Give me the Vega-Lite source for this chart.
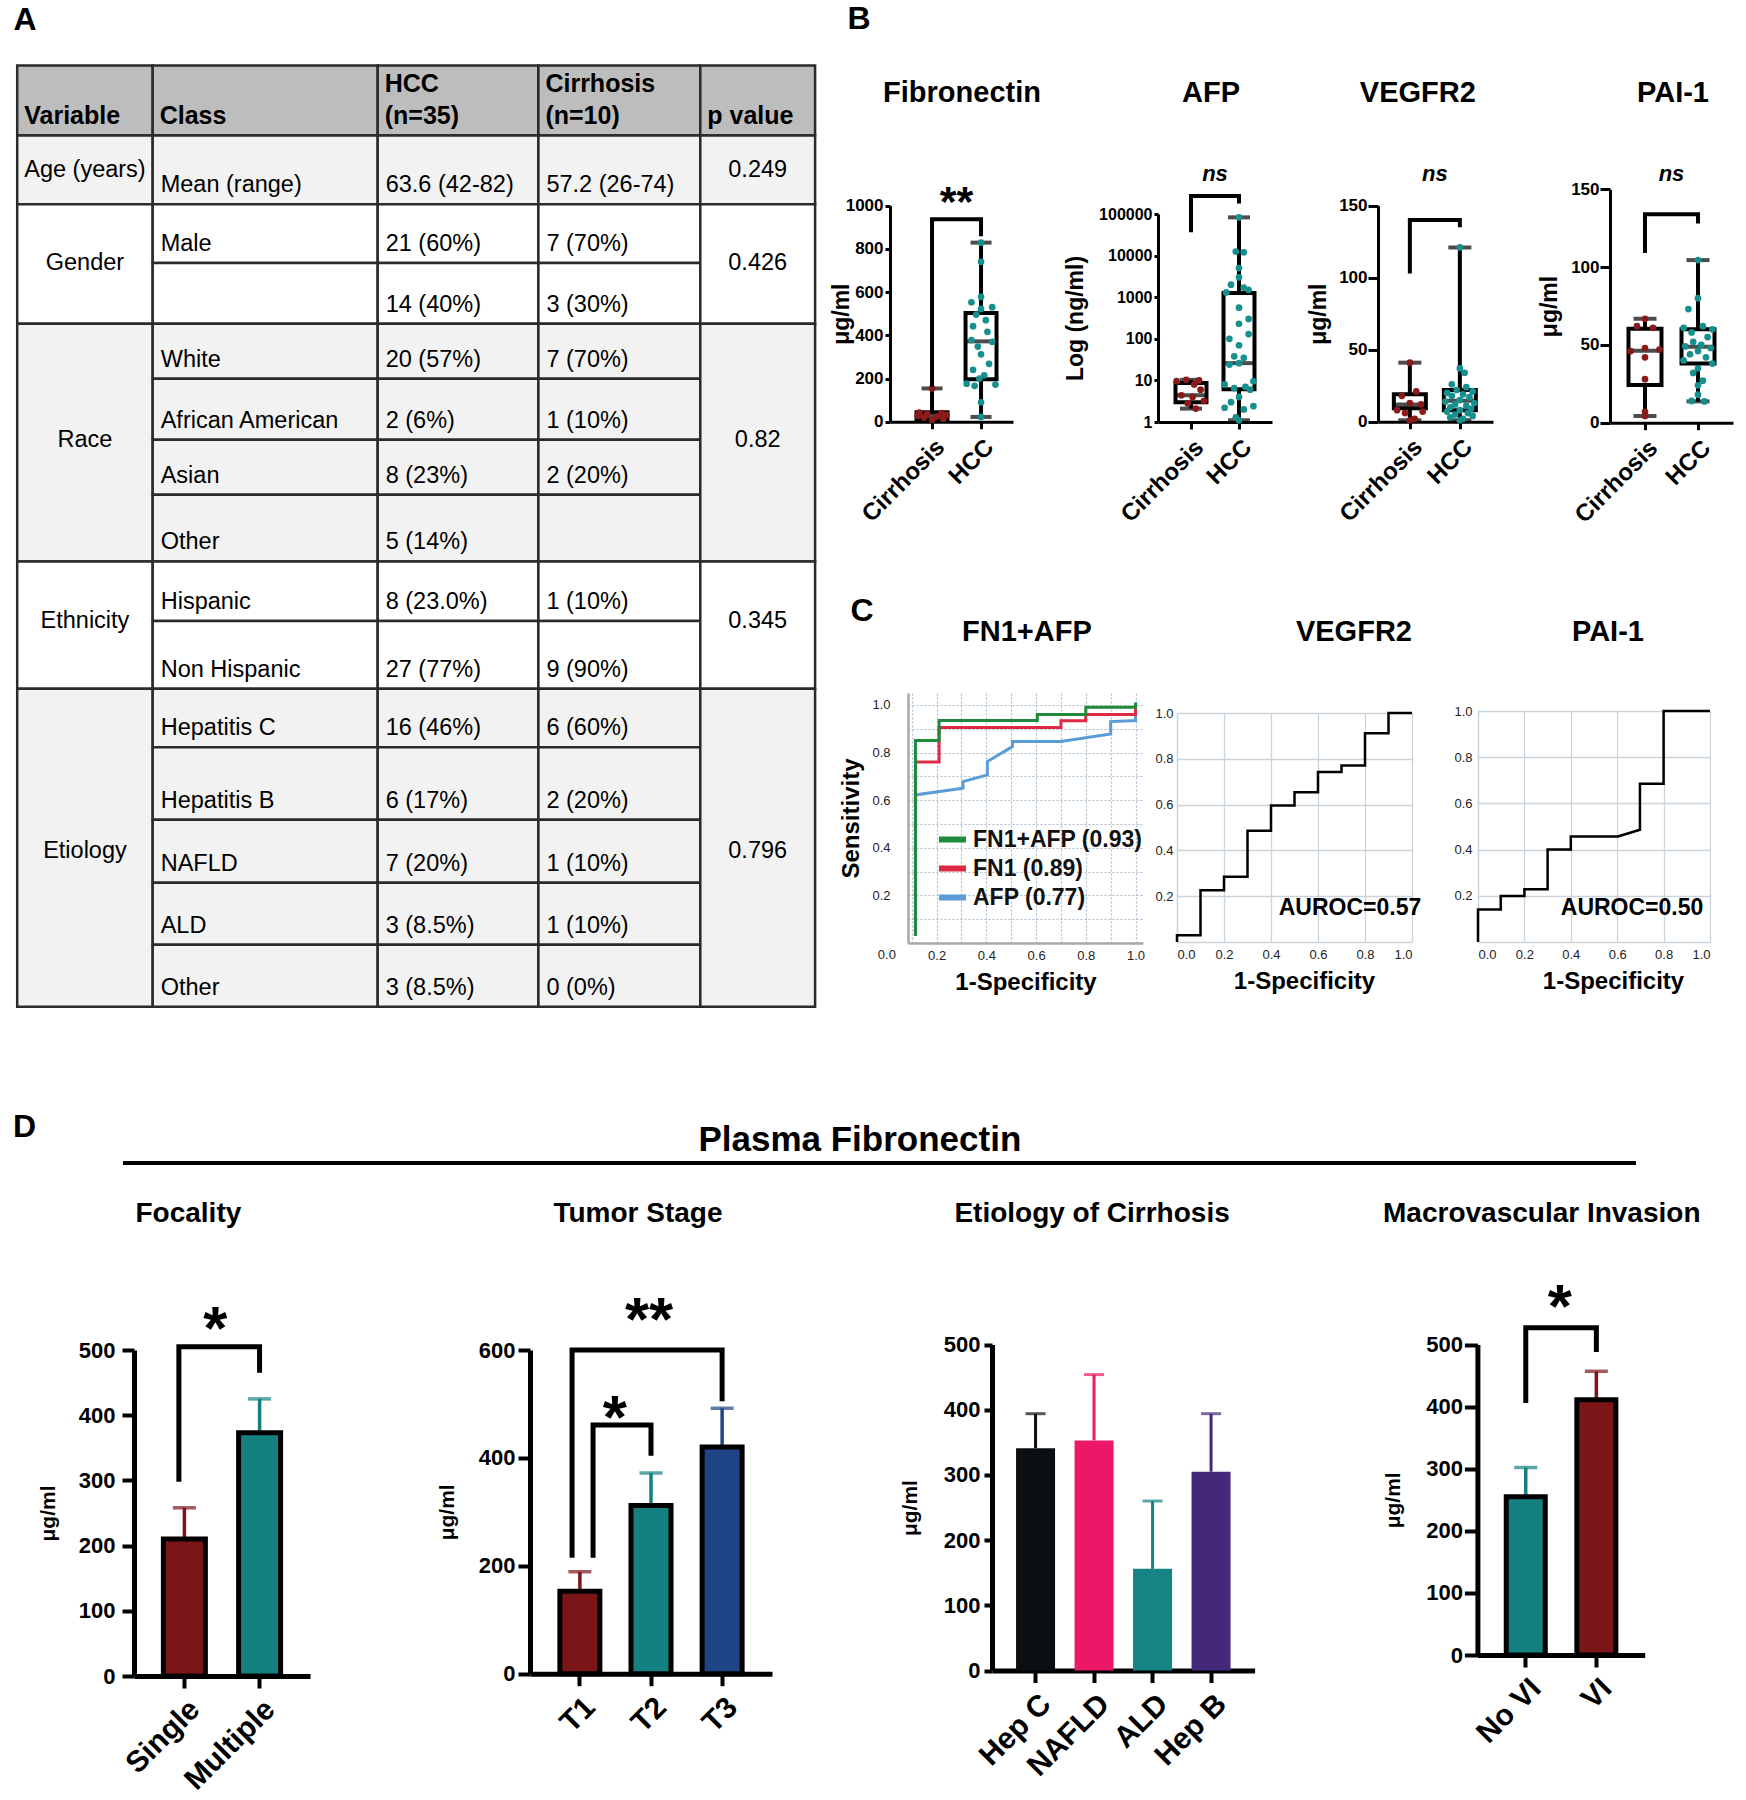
{
"$schema": "https://vega.github.io/schema/vega-lite/v6.json",
"width": 1746, "height": 1800,
"autosize": {"type": "none"},
"padding": 0,
"background": "#ffffff",
"config": {
  "font": "Liberation Sans",
  "view": {"stroke": null},
  "axis": {"grid": false, "labelColor": "#000000", "titleColor": "#000000", "domainColor": "#000000", "tickColor": "#000000", "labelFont": "Liberation Sans", "titleFont": "Liberation Sans"},
  "text": {"font": "Liberation Sans", "color": "#000000"}
},
"resolve": {
  "scale": {"x": "independent", "y": "independent", "color": "independent", "xOffset": "independent"},
  "axis": {"x": "independent", "y": "independent"},
  "legend": {"color": "independent"}
},
"datasets": {
  "table": [
    {"sec":"Header","c0":0,"c1":1,"r0":0,"r1":1,"text":"Variable"},
    {"sec":"Header","c0":1,"c1":2,"r0":0,"r1":1,"text":"Class"},
    {"sec":"Header","c0":2,"c1":3,"r0":0,"r1":1,"text":"HCC\n(n=35)"},
    {"sec":"Header","c0":3,"c1":4,"r0":0,"r1":1,"text":"Cirrhosis\n(n=10)"},
    {"sec":"Header","c0":4,"c1":5,"r0":0,"r1":1,"text":"p value"},
    {"sec":"Age","c0":0,"c1":1,"r0":1,"r1":2,"text":"Age (years)"},
    {"sec":"Age","c0":1,"c1":2,"r0":1,"r1":2,"text":"Mean (range)"},
    {"sec":"Age","c0":2,"c1":3,"r0":1,"r1":2,"text":"63.6 (42-82)"},
    {"sec":"Age","c0":3,"c1":4,"r0":1,"r1":2,"text":"57.2 (26-74)"},
    {"sec":"Age","c0":4,"c1":5,"r0":1,"r1":2,"text":"0.249"},
    {"sec":"Gender","c0":0,"c1":1,"r0":2,"r1":4,"text":"Gender"},
    {"sec":"Gender","c0":1,"c1":2,"r0":2,"r1":3,"text":"Male"},
    {"sec":"Gender","c0":2,"c1":3,"r0":2,"r1":3,"text":"21 (60%)"},
    {"sec":"Gender","c0":3,"c1":4,"r0":2,"r1":3,"text":"7 (70%)"},
    {"sec":"Gender","c0":1,"c1":2,"r0":3,"r1":4,"text":""},
    {"sec":"Gender","c0":2,"c1":3,"r0":3,"r1":4,"text":"14 (40%)"},
    {"sec":"Gender","c0":3,"c1":4,"r0":3,"r1":4,"text":"3 (30%)"},
    {"sec":"Gender","c0":4,"c1":5,"r0":2,"r1":4,"text":"0.426"},
    {"sec":"Race","c0":0,"c1":1,"r0":4,"r1":8,"text":"Race"},
    {"sec":"Race","c0":1,"c1":2,"r0":4,"r1":5,"text":"White"},
    {"sec":"Race","c0":2,"c1":3,"r0":4,"r1":5,"text":"20 (57%)"},
    {"sec":"Race","c0":3,"c1":4,"r0":4,"r1":5,"text":"7 (70%)"},
    {"sec":"Race","c0":1,"c1":2,"r0":5,"r1":6,"text":"African American"},
    {"sec":"Race","c0":2,"c1":3,"r0":5,"r1":6,"text":"2 (6%)"},
    {"sec":"Race","c0":3,"c1":4,"r0":5,"r1":6,"text":"1 (10%)"},
    {"sec":"Race","c0":1,"c1":2,"r0":6,"r1":7,"text":"Asian"},
    {"sec":"Race","c0":2,"c1":3,"r0":6,"r1":7,"text":"8 (23%)"},
    {"sec":"Race","c0":3,"c1":4,"r0":6,"r1":7,"text":"2 (20%)"},
    {"sec":"Race","c0":1,"c1":2,"r0":7,"r1":8,"text":"Other"},
    {"sec":"Race","c0":2,"c1":3,"r0":7,"r1":8,"text":"5 (14%)"},
    {"sec":"Race","c0":3,"c1":4,"r0":7,"r1":8,"text":""},
    {"sec":"Race","c0":4,"c1":5,"r0":4,"r1":8,"text":"0.82"},
    {"sec":"Ethnicity","c0":0,"c1":1,"r0":8,"r1":10,"text":"Ethnicity"},
    {"sec":"Ethnicity","c0":1,"c1":2,"r0":8,"r1":9,"text":"Hispanic"},
    {"sec":"Ethnicity","c0":2,"c1":3,"r0":8,"r1":9,"text":"8 (23.0%)"},
    {"sec":"Ethnicity","c0":3,"c1":4,"r0":8,"r1":9,"text":"1 (10%)"},
    {"sec":"Ethnicity","c0":1,"c1":2,"r0":9,"r1":10,"text":"Non Hispanic"},
    {"sec":"Ethnicity","c0":2,"c1":3,"r0":9,"r1":10,"text":"27 (77%)"},
    {"sec":"Ethnicity","c0":3,"c1":4,"r0":9,"r1":10,"text":"9 (90%)"},
    {"sec":"Ethnicity","c0":4,"c1":5,"r0":8,"r1":10,"text":"0.345"},
    {"sec":"Etiology","c0":0,"c1":1,"r0":10,"r1":15,"text":"Etiology"},
    {"sec":"Etiology","c0":1,"c1":2,"r0":10,"r1":11,"text":"Hepatitis C"},
    {"sec":"Etiology","c0":2,"c1":3,"r0":10,"r1":11,"text":"16 (46%)"},
    {"sec":"Etiology","c0":3,"c1":4,"r0":10,"r1":11,"text":"6 (60%)"},
    {"sec":"Etiology","c0":1,"c1":2,"r0":11,"r1":12,"text":"Hepatitis B"},
    {"sec":"Etiology","c0":2,"c1":3,"r0":11,"r1":12,"text":"6 (17%)"},
    {"sec":"Etiology","c0":3,"c1":4,"r0":11,"r1":12,"text":"2 (20%)"},
    {"sec":"Etiology","c0":1,"c1":2,"r0":12,"r1":13,"text":"NAFLD"},
    {"sec":"Etiology","c0":2,"c1":3,"r0":12,"r1":13,"text":"7 (20%)"},
    {"sec":"Etiology","c0":3,"c1":4,"r0":12,"r1":13,"text":"1 (10%)"},
    {"sec":"Etiology","c0":1,"c1":2,"r0":13,"r1":14,"text":"ALD"},
    {"sec":"Etiology","c0":2,"c1":3,"r0":13,"r1":14,"text":"3 (8.5%)"},
    {"sec":"Etiology","c0":3,"c1":4,"r0":13,"r1":14,"text":"1 (10%)"},
    {"sec":"Etiology","c0":1,"c1":2,"r0":14,"r1":15,"text":"Other"},
    {"sec":"Etiology","c0":2,"c1":3,"r0":14,"r1":15,"text":"3 (8.5%)"},
    {"sec":"Etiology","c0":3,"c1":4,"r0":14,"r1":15,"text":"0 (0%)"},
    {"sec":"Etiology","c0":4,"c1":5,"r0":10,"r1":15,"text":"0.796"}
  ],
  "bbox": [
    {"panel":"Fibronectin","group":"Cirrhosis","lo":5,"q1":10,"med":28,"q3":44,"hi":154},
    {"panel":"Fibronectin","group":"HCC","lo":22,"q1":196,"med":372,"q3":503,"hi":829},
    {"panel":"AFP","group":"Cirrhosis","lo":2.1,"q1":3.0,"med":4.4,"q3":8.6,"hi":10.3},
    {"panel":"AFP","group":"HCC","lo":1.1,"q1":6.1,"med":26,"q3":1260,"hi":83000},
    {"panel":"VEGFR2","group":"Cirrhosis","lo":1,"q1":9.3,"med":12,"q3":19,"hi":41},
    {"panel":"VEGFR2","group":"HCC","lo":1,"q1":8,"med":14.6,"q3":22,"hi":121},
    {"panel":"PAI-1","group":"Cirrhosis","lo":4.3,"q1":24.2,"med":46.3,"q3":60.4,"hi":66.8},
    {"panel":"PAI-1","group":"HCC","lo":13.7,"q1":38,"med":48.8,"q3":60,"hi":104.5}
  ],
  "bbr": [
    {"panel":"Fibronectin","br":"a","ord":1,"group":"Cirrhosis","y":163},
    {"panel":"Fibronectin","br":"a","ord":2,"group":"Cirrhosis","y":937},
    {"panel":"Fibronectin","br":"a","ord":3,"group":"HCC","y":937},
    {"panel":"Fibronectin","br":"a","ord":4,"group":"HCC","y":859},
    {"panel":"AFP","br":"a","ord":1,"group":"Cirrhosis","y":36500},
    {"panel":"AFP","br":"a","ord":2,"group":"Cirrhosis","y":270000},
    {"panel":"AFP","br":"a","ord":3,"group":"HCC","y":270000},
    {"panel":"AFP","br":"a","ord":4,"group":"HCC","y":180000},
    {"panel":"VEGFR2","br":"a","ord":1,"group":"Cirrhosis","y":103},
    {"panel":"VEGFR2","br":"a","ord":2,"group":"Cirrhosis","y":140},
    {"panel":"VEGFR2","br":"a","ord":3,"group":"HCC","y":140},
    {"panel":"VEGFR2","br":"a","ord":4,"group":"HCC","y":135},
    {"panel":"PAI-1","br":"a","ord":1,"group":"Cirrhosis","y":109},
    {"panel":"PAI-1","br":"a","ord":2,"group":"Cirrhosis","y":134},
    {"panel":"PAI-1","br":"a","ord":3,"group":"HCC","y":134},
    {"panel":"PAI-1","br":"a","ord":4,"group":"HCC","y":128}
  ],
  "bpts": [
    {"panel":"Fibronectin","group":"Cirrhosis","value":154,"jitter":0},
    {"panel":"Fibronectin","group":"Cirrhosis","value":42,"jitter":-0.8},
    {"panel":"Fibronectin","group":"Cirrhosis","value":40,"jitter":0.6},
    {"panel":"Fibronectin","group":"Cirrhosis","value":36,"jitter":-0.3},
    {"panel":"Fibronectin","group":"Cirrhosis","value":31,"jitter":0.9},
    {"panel":"Fibronectin","group":"Cirrhosis","value":27,"jitter":-0.9},
    {"panel":"Fibronectin","group":"Cirrhosis","value":24,"jitter":0.3},
    {"panel":"Fibronectin","group":"Cirrhosis","value":20,"jitter":-0.5},
    {"panel":"Fibronectin","group":"Cirrhosis","value":14,"jitter":0.7},
    {"panel":"Fibronectin","group":"Cirrhosis","value":9,"jitter":0},
    {"panel":"Fibronectin","group":"HCC","value":829,"jitter":0},
    {"panel":"Fibronectin","group":"HCC","value":740,"jitter":0},
    {"panel":"Fibronectin","group":"HCC","value":578,"jitter":0},
    {"panel":"Fibronectin","group":"HCC","value":553,"jitter":-0.6},
    {"panel":"Fibronectin","group":"HCC","value":530,"jitter":0.7},
    {"panel":"Fibronectin","group":"HCC","value":522,"jitter":0},
    {"panel":"Fibronectin","group":"HCC","value":496,"jitter":-0.3},
    {"panel":"Fibronectin","group":"HCC","value":470,"jitter":0.3},
    {"panel":"Fibronectin","group":"HCC","value":442,"jitter":-0.5},
    {"panel":"Fibronectin","group":"HCC","value":416,"jitter":0.4},
    {"panel":"Fibronectin","group":"HCC","value":378,"jitter":-0.6},
    {"panel":"Fibronectin","group":"HCC","value":370,"jitter":0.7},
    {"panel":"Fibronectin","group":"HCC","value":348,"jitter":-0.2},
    {"panel":"Fibronectin","group":"HCC","value":312,"jitter":0},
    {"panel":"Fibronectin","group":"HCC","value":268,"jitter":0.5},
    {"panel":"Fibronectin","group":"HCC","value":240,"jitter":-0.5},
    {"panel":"Fibronectin","group":"HCC","value":215,"jitter":0.2},
    {"panel":"Fibronectin","group":"HCC","value":200,"jitter":-0.1},
    {"panel":"Fibronectin","group":"HCC","value":176,"jitter":-0.9},
    {"panel":"Fibronectin","group":"HCC","value":172,"jitter":0.9},
    {"panel":"Fibronectin","group":"HCC","value":166,"jitter":-0.4},
    {"panel":"Fibronectin","group":"HCC","value":90,"jitter":0},
    {"panel":"Fibronectin","group":"HCC","value":22,"jitter":0},
    {"panel":"AFP","group":"Cirrhosis","value":10.3,"jitter":-0.3},
    {"panel":"AFP","group":"Cirrhosis","value":10,"jitter":0.5},
    {"panel":"AFP","group":"Cirrhosis","value":9.6,"jitter":-0.9},
    {"panel":"AFP","group":"Cirrhosis","value":8,"jitter":0.2},
    {"panel":"AFP","group":"Cirrhosis","value":6,"jitter":0.6},
    {"panel":"AFP","group":"Cirrhosis","value":4.4,"jitter":-0.6},
    {"panel":"AFP","group":"Cirrhosis","value":4,"jitter":0.1},
    {"panel":"AFP","group":"Cirrhosis","value":3.2,"jitter":0.8},
    {"panel":"AFP","group":"Cirrhosis","value":2.8,"jitter":-0.2},
    {"panel":"AFP","group":"Cirrhosis","value":2.1,"jitter":0.3},
    {"panel":"AFP","group":"HCC","value":83000,"jitter":0},
    {"panel":"AFP","group":"HCC","value":12500,"jitter":-0.2},
    {"panel":"AFP","group":"HCC","value":12000,"jitter":0.3},
    {"panel":"AFP","group":"HCC","value":5000,"jitter":0},
    {"panel":"AFP","group":"HCC","value":3000,"jitter":0},
    {"panel":"AFP","group":"HCC","value":2000,"jitter":-0.5},
    {"panel":"AFP","group":"HCC","value":1700,"jitter":0.3},
    {"panel":"AFP","group":"HCC","value":1500,"jitter":0.6},
    {"panel":"AFP","group":"HCC","value":1300,"jitter":-0.8},
    {"panel":"AFP","group":"HCC","value":560,"jitter":0},
    {"panel":"AFP","group":"HCC","value":300,"jitter":0.6},
    {"panel":"AFP","group":"HCC","value":230,"jitter":0},
    {"panel":"AFP","group":"HCC","value":130,"jitter":0.6},
    {"panel":"AFP","group":"HCC","value":100,"jitter":-0.6},
    {"panel":"AFP","group":"HCC","value":70,"jitter":0},
    {"panel":"AFP","group":"HCC","value":38,"jitter":-0.3},
    {"panel":"AFP","group":"HCC","value":35,"jitter":0.3},
    {"panel":"AFP","group":"HCC","value":26,"jitter":0},
    {"panel":"AFP","group":"HCC","value":24,"jitter":-0.6},
    {"panel":"AFP","group":"HCC","value":9.5,"jitter":0.9},
    {"panel":"AFP","group":"HCC","value":8,"jitter":-0.9},
    {"panel":"AFP","group":"HCC","value":7,"jitter":0.4},
    {"panel":"AFP","group":"HCC","value":6.5,"jitter":-0.3},
    {"panel":"AFP","group":"HCC","value":6,"jitter":0.7},
    {"panel":"AFP","group":"HCC","value":4,"jitter":0},
    {"panel":"AFP","group":"HCC","value":3,"jitter":-0.5},
    {"panel":"AFP","group":"HCC","value":2.4,"jitter":0.9},
    {"panel":"AFP","group":"HCC","value":2.2,"jitter":-0.9},
    {"panel":"AFP","group":"HCC","value":2,"jitter":0.3},
    {"panel":"AFP","group":"HCC","value":1.3,"jitter":-0.2},
    {"panel":"AFP","group":"HCC","value":1.1,"jitter":0},
    {"panel":"VEGFR2","group":"Cirrhosis","value":41,"jitter":0},
    {"panel":"VEGFR2","group":"Cirrhosis","value":21,"jitter":0.4},
    {"panel":"VEGFR2","group":"Cirrhosis","value":18,"jitter":-0.5},
    {"panel":"VEGFR2","group":"Cirrhosis","value":13,"jitter":0},
    {"panel":"VEGFR2","group":"Cirrhosis","value":12,"jitter":0.7},
    {"panel":"VEGFR2","group":"Cirrhosis","value":8,"jitter":-0.8},
    {"panel":"VEGFR2","group":"Cirrhosis","value":7,"jitter":0.8},
    {"panel":"VEGFR2","group":"Cirrhosis","value":6,"jitter":-0.3},
    {"panel":"VEGFR2","group":"Cirrhosis","value":2,"jitter":0.3},
    {"panel":"VEGFR2","group":"Cirrhosis","value":1,"jitter":0},
    {"panel":"VEGFR2","group":"HCC","value":121,"jitter":0},
    {"panel":"VEGFR2","group":"HCC","value":37,"jitter":0},
    {"panel":"VEGFR2","group":"HCC","value":34,"jitter":0.3},
    {"panel":"VEGFR2","group":"HCC","value":26,"jitter":-0.5},
    {"panel":"VEGFR2","group":"HCC","value":24,"jitter":0.4},
    {"panel":"VEGFR2","group":"HCC","value":22,"jitter":-0.2},
    {"panel":"VEGFR2","group":"HCC","value":21,"jitter":0.8},
    {"panel":"VEGFR2","group":"HCC","value":20,"jitter":-0.8},
    {"panel":"VEGFR2","group":"HCC","value":19,"jitter":0.2},
    {"panel":"VEGFR2","group":"HCC","value":18,"jitter":-0.5},
    {"panel":"VEGFR2","group":"HCC","value":17,"jitter":0.6},
    {"panel":"VEGFR2","group":"HCC","value":15,"jitter":0},
    {"panel":"VEGFR2","group":"HCC","value":14,"jitter":-0.9},
    {"panel":"VEGFR2","group":"HCC","value":13,"jitter":0.9},
    {"panel":"VEGFR2","group":"HCC","value":12,"jitter":-0.3},
    {"panel":"VEGFR2","group":"HCC","value":11,"jitter":0.4},
    {"panel":"VEGFR2","group":"HCC","value":10,"jitter":-0.6},
    {"panel":"VEGFR2","group":"HCC","value":9,"jitter":0.7},
    {"panel":"VEGFR2","group":"HCC","value":8,"jitter":0},
    {"panel":"VEGFR2","group":"HCC","value":7,"jitter":-0.8},
    {"panel":"VEGFR2","group":"HCC","value":6,"jitter":0.5},
    {"panel":"VEGFR2","group":"HCC","value":5,"jitter":-0.3},
    {"panel":"VEGFR2","group":"HCC","value":4,"jitter":0.8},
    {"panel":"VEGFR2","group":"HCC","value":3,"jitter":-0.6},
    {"panel":"VEGFR2","group":"HCC","value":2,"jitter":0.2},
    {"panel":"VEGFR2","group":"HCC","value":1,"jitter":0},
    {"panel":"PAI-1","group":"Cirrhosis","value":66.8,"jitter":0},
    {"panel":"PAI-1","group":"Cirrhosis","value":62,"jitter":-0.5},
    {"panel":"PAI-1","group":"Cirrhosis","value":61,"jitter":0.5},
    {"panel":"PAI-1","group":"Cirrhosis","value":48,"jitter":0},
    {"panel":"PAI-1","group":"Cirrhosis","value":47,"jitter":0.9},
    {"panel":"PAI-1","group":"Cirrhosis","value":46,"jitter":-0.9},
    {"panel":"PAI-1","group":"Cirrhosis","value":42,"jitter":0},
    {"panel":"PAI-1","group":"Cirrhosis","value":28,"jitter":0},
    {"panel":"PAI-1","group":"Cirrhosis","value":7,"jitter":0},
    {"panel":"PAI-1","group":"Cirrhosis","value":4.3,"jitter":0},
    {"panel":"PAI-1","group":"HCC","value":104.5,"jitter":0},
    {"panel":"PAI-1","group":"HCC","value":80,"jitter":0},
    {"panel":"PAI-1","group":"HCC","value":73,"jitter":-0.6},
    {"panel":"PAI-1","group":"HCC","value":62,"jitter":0.3},
    {"panel":"PAI-1","group":"HCC","value":61,"jitter":-0.9},
    {"panel":"PAI-1","group":"HCC","value":60,"jitter":0.9},
    {"panel":"PAI-1","group":"HCC","value":58,"jitter":-0.4},
    {"panel":"PAI-1","group":"HCC","value":55,"jitter":0.6},
    {"panel":"PAI-1","group":"HCC","value":52,"jitter":-0.3},
    {"panel":"PAI-1","group":"HCC","value":50,"jitter":0.2},
    {"panel":"PAI-1","group":"HCC","value":49,"jitter":-0.8},
    {"panel":"PAI-1","group":"HCC","value":48,"jitter":0.8},
    {"panel":"PAI-1","group":"HCC","value":46,"jitter":0},
    {"panel":"PAI-1","group":"HCC","value":44,"jitter":-0.5},
    {"panel":"PAI-1","group":"HCC","value":42,"jitter":0.5},
    {"panel":"PAI-1","group":"HCC","value":40,"jitter":-0.9},
    {"panel":"PAI-1","group":"HCC","value":38,"jitter":0.9},
    {"panel":"PAI-1","group":"HCC","value":35,"jitter":0},
    {"panel":"PAI-1","group":"HCC","value":32,"jitter":-0.3},
    {"panel":"PAI-1","group":"HCC","value":27,"jitter":0.3},
    {"panel":"PAI-1","group":"HCC","value":24,"jitter":0},
    {"panel":"PAI-1","group":"HCC","value":18,"jitter":0},
    {"panel":"PAI-1","group":"HCC","value":14,"jitter":-0.4},
    {"panel":"PAI-1","group":"HCC","value":13.7,"jitter":0.4}
  ],
  "roc": [
    {"panel":"FN1+AFP","curve":"AFP (0.77)","ord":1,"fpr":0.115,"tpr":0.03},
    {"panel":"FN1+AFP","curve":"AFP (0.77)","ord":2,"fpr":0.115,"tpr":0.622},
    {"panel":"FN1+AFP","curve":"AFP (0.77)","ord":3,"fpr":0.306,"tpr":0.65},
    {"panel":"FN1+AFP","curve":"AFP (0.77)","ord":4,"fpr":0.306,"tpr":0.678},
    {"panel":"FN1+AFP","curve":"AFP (0.77)","ord":5,"fpr":0.404,"tpr":0.706},
    {"panel":"FN1+AFP","curve":"AFP (0.77)","ord":6,"fpr":0.404,"tpr":0.762},
    {"panel":"FN1+AFP","curve":"AFP (0.77)","ord":7,"fpr":0.505,"tpr":0.825},
    {"panel":"FN1+AFP","curve":"AFP (0.77)","ord":8,"fpr":0.505,"tpr":0.846},
    {"panel":"FN1+AFP","curve":"AFP (0.77)","ord":9,"fpr":0.70,"tpr":0.846},
    {"panel":"FN1+AFP","curve":"AFP (0.77)","ord":10,"fpr":0.90,"tpr":0.878},
    {"panel":"FN1+AFP","curve":"AFP (0.77)","ord":11,"fpr":0.90,"tpr":0.93},
    {"panel":"FN1+AFP","curve":"AFP (0.77)","ord":12,"fpr":1.0,"tpr":0.934},
    {"panel":"FN1+AFP","curve":"AFP (0.77)","ord":13,"fpr":1.0,"tpr":0.958},
    {"panel":"FN1+AFP","curve":"FN1 (0.89)","ord":1,"fpr":0.115,"tpr":0.03},
    {"panel":"FN1+AFP","curve":"FN1 (0.89)","ord":2,"fpr":0.115,"tpr":0.76},
    {"panel":"FN1+AFP","curve":"FN1 (0.89)","ord":3,"fpr":0.21,"tpr":0.76},
    {"panel":"FN1+AFP","curve":"FN1 (0.89)","ord":4,"fpr":0.21,"tpr":0.905},
    {"panel":"FN1+AFP","curve":"FN1 (0.89)","ord":5,"fpr":0.70,"tpr":0.905},
    {"panel":"FN1+AFP","curve":"FN1 (0.89)","ord":6,"fpr":0.70,"tpr":0.933},
    {"panel":"FN1+AFP","curve":"FN1 (0.89)","ord":7,"fpr":0.80,"tpr":0.933},
    {"panel":"FN1+AFP","curve":"FN1 (0.89)","ord":8,"fpr":0.80,"tpr":0.96},
    {"panel":"FN1+AFP","curve":"FN1 (0.89)","ord":9,"fpr":1.0,"tpr":0.96},
    {"panel":"FN1+AFP","curve":"FN1 (0.89)","ord":10,"fpr":1.0,"tpr":0.99},
    {"panel":"FN1+AFP","curve":"FN1+AFP (0.93)","ord":1,"fpr":0.115,"tpr":0.03},
    {"panel":"FN1+AFP","curve":"FN1+AFP (0.93)","ord":2,"fpr":0.115,"tpr":0.85},
    {"panel":"FN1+AFP","curve":"FN1+AFP (0.93)","ord":3,"fpr":0.21,"tpr":0.85},
    {"panel":"FN1+AFP","curve":"FN1+AFP (0.93)","ord":4,"fpr":0.21,"tpr":0.935},
    {"panel":"FN1+AFP","curve":"FN1+AFP (0.93)","ord":5,"fpr":0.605,"tpr":0.935},
    {"panel":"FN1+AFP","curve":"FN1+AFP (0.93)","ord":6,"fpr":0.605,"tpr":0.96},
    {"panel":"FN1+AFP","curve":"FN1+AFP (0.93)","ord":7,"fpr":0.80,"tpr":0.96},
    {"panel":"FN1+AFP","curve":"FN1+AFP (0.93)","ord":8,"fpr":0.80,"tpr":0.99},
    {"panel":"FN1+AFP","curve":"FN1+AFP (0.93)","ord":9,"fpr":1.0,"tpr":0.99},
    {"panel":"FN1+AFP","curve":"FN1+AFP (0.93)","ord":10,"fpr":1.0,"tpr":1.01},
    {"panel":"VEGFR2","curve":"VEGFR2","ord":1,"fpr":0,"tpr":0},
    {"panel":"VEGFR2","curve":"VEGFR2","ord":2,"fpr":0,"tpr":0.03},
    {"panel":"VEGFR2","curve":"VEGFR2","ord":3,"fpr":0.1,"tpr":0.03},
    {"panel":"VEGFR2","curve":"VEGFR2","ord":4,"fpr":0.1,"tpr":0.226},
    {"panel":"VEGFR2","curve":"VEGFR2","ord":5,"fpr":0.2,"tpr":0.226},
    {"panel":"VEGFR2","curve":"VEGFR2","ord":6,"fpr":0.2,"tpr":0.285},
    {"panel":"VEGFR2","curve":"VEGFR2","ord":7,"fpr":0.3,"tpr":0.285},
    {"panel":"VEGFR2","curve":"VEGFR2","ord":8,"fpr":0.3,"tpr":0.486},
    {"panel":"VEGFR2","curve":"VEGFR2","ord":9,"fpr":0.4,"tpr":0.486},
    {"panel":"VEGFR2","curve":"VEGFR2","ord":10,"fpr":0.4,"tpr":0.596},
    {"panel":"VEGFR2","curve":"VEGFR2","ord":11,"fpr":0.5,"tpr":0.596},
    {"panel":"VEGFR2","curve":"VEGFR2","ord":12,"fpr":0.5,"tpr":0.654},
    {"panel":"VEGFR2","curve":"VEGFR2","ord":13,"fpr":0.6,"tpr":0.654},
    {"panel":"VEGFR2","curve":"VEGFR2","ord":14,"fpr":0.6,"tpr":0.742},
    {"panel":"VEGFR2","curve":"VEGFR2","ord":15,"fpr":0.7,"tpr":0.742},
    {"panel":"VEGFR2","curve":"VEGFR2","ord":16,"fpr":0.7,"tpr":0.771},
    {"panel":"VEGFR2","curve":"VEGFR2","ord":17,"fpr":0.8,"tpr":0.771},
    {"panel":"VEGFR2","curve":"VEGFR2","ord":18,"fpr":0.8,"tpr":0.912},
    {"panel":"VEGFR2","curve":"VEGFR2","ord":19,"fpr":0.9,"tpr":0.912},
    {"panel":"VEGFR2","curve":"VEGFR2","ord":20,"fpr":0.9,"tpr":1.0},
    {"panel":"VEGFR2","curve":"VEGFR2","ord":21,"fpr":1.0,"tpr":1.0},
    {"panel":"PAI-1","curve":"PAI-1","ord":1,"fpr":0,"tpr":0},
    {"panel":"PAI-1","curve":"PAI-1","ord":2,"fpr":0,"tpr":0.141},
    {"panel":"PAI-1","curve":"PAI-1","ord":3,"fpr":0.098,"tpr":0.141},
    {"panel":"PAI-1","curve":"PAI-1","ord":4,"fpr":0.098,"tpr":0.199},
    {"panel":"PAI-1","curve":"PAI-1","ord":5,"fpr":0.2,"tpr":0.199},
    {"panel":"PAI-1","curve":"PAI-1","ord":6,"fpr":0.2,"tpr":0.228},
    {"panel":"PAI-1","curve":"PAI-1","ord":7,"fpr":0.3,"tpr":0.228},
    {"panel":"PAI-1","curve":"PAI-1","ord":8,"fpr":0.3,"tpr":0.4},
    {"panel":"PAI-1","curve":"PAI-1","ord":9,"fpr":0.4,"tpr":0.4},
    {"panel":"PAI-1","curve":"PAI-1","ord":10,"fpr":0.4,"tpr":0.457},
    {"panel":"PAI-1","curve":"PAI-1","ord":11,"fpr":0.603,"tpr":0.457},
    {"panel":"PAI-1","curve":"PAI-1","ord":12,"fpr":0.698,"tpr":0.486},
    {"panel":"PAI-1","curve":"PAI-1","ord":13,"fpr":0.698,"tpr":0.685},
    {"panel":"PAI-1","curve":"PAI-1","ord":14,"fpr":0.8,"tpr":0.685},
    {"panel":"PAI-1","curve":"PAI-1","ord":15,"fpr":0.8,"tpr":1.0},
    {"panel":"PAI-1","curve":"PAI-1","ord":16,"fpr":1.0,"tpr":1.0}
  ],
  "dbars": [
    {"panel":"Focality","group":"Single","mean":210,"upper":258},
    {"panel":"Focality","group":"Multiple","mean":373,"upper":425},
    {"panel":"Tumor","group":"T1","mean":153,"upper":189},
    {"panel":"Tumor","group":"T2","mean":312,"upper":372},
    {"panel":"Tumor","group":"T3","mean":420,"upper":492},
    {"panel":"Etiology","group":"Hep C","mean":341,"upper":394},
    {"panel":"Etiology","group":"NAFLD","mean":353,"upper":454},
    {"panel":"Etiology","group":"ALD","mean":156,"upper":260},
    {"panel":"Etiology","group":"Hep B","mean":305,"upper":394},
    {"panel":"Macro","group":"No VI","mean":255,"upper":302},
    {"panel":"Macro","group":"VI","mean":411,"upper":457}
  ],
  "dbr": [
    {"panel":"Focality","br":"a","ord":1,"group":"Single","shift":-0.13,"y":298},
    {"panel":"Focality","br":"a","ord":2,"group":"Single","shift":-0.13,"y":505},
    {"panel":"Focality","br":"a","ord":3,"group":"Multiple","shift":0,"y":505},
    {"panel":"Focality","br":"a","ord":4,"group":"Multiple","shift":0,"y":465},
    {"panel":"Tumor","br":"a","ord":1,"group":"T1","shift":-0.195,"y":215},
    {"panel":"Tumor","br":"a","ord":2,"group":"T1","shift":-0.195,"y":600},
    {"panel":"Tumor","br":"a","ord":3,"group":"T3","shift":0,"y":600},
    {"panel":"Tumor","br":"a","ord":4,"group":"T3","shift":0,"y":505},
    {"panel":"Tumor","br":"b","ord":1,"group":"T1","shift":0.33,"y":215},
    {"panel":"Tumor","br":"b","ord":2,"group":"T1","shift":0.33,"y":461},
    {"panel":"Tumor","br":"b","ord":3,"group":"T2","shift":0,"y":461},
    {"panel":"Tumor","br":"b","ord":4,"group":"T2","shift":0,"y":404},
    {"panel":"Macro","br":"a","ord":1,"group":"No VI","shift":0,"y":406},
    {"panel":"Macro","br":"a","ord":2,"group":"No VI","shift":0,"y":527},
    {"panel":"Macro","br":"a","ord":3,"group":"VI","shift":0,"y":527},
    {"panel":"Macro","br":"a","ord":4,"group":"VI","shift":0,"y":488}
  ]
},
"layer": [
  {
    "data": {"name": "table"},
    "resolve": {"axis": {"x": "independent", "y": "independent"}},
    "layer": [
      {"mark": {"type": "rect", "stroke": "#2b2b2b", "strokeWidth": 2.5},
       "encoding": {
         "x": {"field": "c0", "type": "quantitative", "scale": {"domain": [0,1,2,3,4,5], "range": [17.2,152.7,377.7,538.4,700.3,815.1], "nice": false, "zero": false}, "axis": null},
         "x2": {"field": "c1"},
         "y": {"field": "r0", "type": "quantitative", "scale": {"domain": [0,1,2,3,4,5,6,7,8,9,10,11,12,13,14,15], "range": [65.4,135.5,204.3,262.9,323.7,378.8,439.7,494.8,561.4,621.1,688.8,747.3,819.7,882.8,944.8,1006.8], "nice": false, "zero": false}, "axis": null},
         "y2": {"field": "r1"},
         "color": {"field": "sec", "type": "nominal", "scale": {"domain": ["Header","Age","Gender","Race","Ethnicity","Etiology"], "range": ["#bdbdbd","#f2f2f2","#ffffff","#f2f2f2","#ffffff","#f2f2f2"]}, "legend": null}
       }},
      {"transform": [{"filter": "datum.r0 == 0 && (datum.c0 == 0 || datum.c0 == 1 || datum.c0 == 4)"}],
       "mark": {"type": "text", "align": "left", "baseline": "bottom", "dx": 7, "dy": -7, "fontSize": 25, "fontWeight": "bold"},
       "encoding": {"x": {"field": "c0", "type": "quantitative", "axis": null}, "y": {"field": "r1", "type": "quantitative", "axis": null}, "text": {"field": "text"}}},
      {"transform": [{"filter": "datum.r0 == 0 && (datum.c0 == 2 || datum.c0 == 3)"}],
       "mark": {"type": "text", "align": "left", "baseline": "bottom", "dx": 7, "dy": -39, "fontSize": 25, "fontWeight": "bold", "lineBreak": "\n", "lineHeight": 32},
       "encoding": {"x": {"field": "c0", "type": "quantitative", "axis": null}, "y": {"field": "r1", "type": "quantitative", "axis": null}, "text": {"field": "text"}}},
      {"transform": [{"filter": "datum.r0 > 0 && datum.c0 >= 1 && datum.c0 <= 3"}],
       "mark": {"type": "text", "align": "left", "baseline": "bottom", "dx": 8, "dy": -7, "fontSize": 23.5},
       "encoding": {"x": {"field": "c0", "type": "quantitative", "axis": null}, "y": {"field": "r1", "type": "quantitative", "axis": null}, "text": {"field": "text"}}},
      {"transform": [{"filter": "datum.r0 > 0 && (datum.c0 == 0 || datum.c0 == 4)"}, {"calculate": "(datum.c0 + datum.c1) / 2", "as": "cm"}, {"calculate": "(datum.r0 + datum.r1) / 2", "as": "rm"}],
       "mark": {"type": "text", "fontSize": 23.5},
       "encoding": {"x": {"field": "cm", "type": "quantitative", "axis": null}, "y": {"field": "rm", "type": "quantitative", "axis": null}, "text": {"field": "text"}}},
      {"data": {"values": [{"t": "A"}]},
       "mark": {"type": "text", "fontSize": 32, "fontWeight": "bold"},
       "encoding": {"x": {"datum": 0.058, "type": "quantitative", "axis": null}, "y": {"datum": -0.65, "type": "quantitative", "axis": null}, "text": {"field": "t"}}}
    ]
  },
  {
    "resolve": {"axis": {"x": "independent", "y": "independent"}},
    "layer": [
      {"data": {"name": "bbox"}, "transform": [{"filter": "datum.panel == 'Fibronectin'"}],
       "mark": {"type": "rule", "color": "#000", "strokeWidth": 4},
       "encoding": {
         "x": {"field": "group", "type": "nominal", "scale": {"type": "point", "domain": ["Cirrhosis","HCC"], "range": [890, 1013], "padding": 0.755, "align": 0.568}, "axis": {"orient": "bottom", "offset": -1378.3, "title": null, "labelAngle": -45, "labelFontSize": 24, "labelFontWeight": "bold", "labelPadding": 6, "labelOverlap": false, "domainWidth": 3, "tickWidth": 3, "tickSize": 7}},
         "y": {"field": "lo", "type": "quantitative", "scale": {"domain": [0, 1000], "range": [421.7, 205.7], "nice": false, "zero": false}, "axis": {"orient": "left", "offset": -890, "values": [0,200,400,600,800,1000], "format": "d", "title": "μg/ml", "titleFontSize": 23, "titleFontWeight": "bold", "titlePadding": -8, "labelFontSize": 17, "labelFontWeight": "bold", "labelPadding": 2, "domainWidth": 3, "tickWidth": 3, "tickSize": 5}},
         "y2": {"field": "hi"}}},
      {"data": {"name": "bbox"}, "transform": [{"filter": "datum.panel == 'Fibronectin'"}],
       "mark": {"type": "bar", "width": 31, "fill": "#ffffff", "stroke": "#000", "strokeWidth": 4},
       "encoding": {"x": {"field": "group", "type": "nominal", "axis": null}, "y": {"field": "q1", "type": "quantitative", "axis": null}, "y2": {"field": "q3"}}},
      {"data": {"name": "bbox"}, "transform": [{"filter": "datum.panel == 'Fibronectin'"}],
       "mark": {"type": "tick", "orient": "horizontal", "size": 31, "thickness": 4, "color": "#000"},
       "encoding": {"x": {"field": "group", "type": "nominal", "axis": null}, "y": {"field": "med", "type": "quantitative", "axis": null}}},
      {"data": {"name": "bbox"}, "transform": [{"filter": "datum.panel == 'Fibronectin'"}],
       "mark": {"type": "tick", "orient": "horizontal", "size": 21, "thickness": 4, "color": "#000"},
       "encoding": {"x": {"field": "group", "type": "nominal", "axis": null}, "y": {"field": "lo", "type": "quantitative", "axis": null}}},
      {"data": {"name": "bbox"}, "transform": [{"filter": "datum.panel == 'Fibronectin'"}],
       "mark": {"type": "tick", "orient": "horizontal", "size": 21, "thickness": 4, "color": "#000"},
       "encoding": {"x": {"field": "group", "type": "nominal", "axis": null}, "y": {"field": "hi", "type": "quantitative", "axis": null}}},
      {"data": {"name": "bpts"}, "transform": [{"filter": "datum.panel == 'Fibronectin'"}],
       "mark": {"type": "circle", "size": 45, "opacity": 1},
       "encoding": {"x": {"field": "group", "type": "nominal", "axis": null}, "xOffset": {"field": "jitter", "type": "quantitative", "scale": {"domain": [-1, 1], "range": [-16, 16]}}, "y": {"field": "value", "type": "quantitative", "axis": null}, "color": {"field": "group", "type": "nominal", "scale": {"domain": ["Cirrhosis","HCC"], "range": ["#8b1a1a","#16908e"]}, "legend": null}}},
      {"data": {"name": "bbr"}, "transform": [{"filter": "datum.panel == 'Fibronectin'"}],
       "mark": {"type": "line", "color": "#000", "strokeWidth": 4, "strokeJoin": "miter"},
       "encoding": {"x": {"field": "group", "type": "nominal", "axis": null}, "y": {"field": "y", "type": "quantitative", "axis": null}, "detail": {"field": "br"}, "order": {"field": "ord", "type": "quantitative"}}},
      {"data": {"values": [{"t": "**"}]},
       "mark": {"type": "text", "fontSize": 43, "fontWeight": "bold", "baseline": "alphabetic", "dx": 24.5},
       "encoding": {"x": {"datum": "Cirrhosis", "axis": null}, "y": {"datum": 952, "axis": null}, "text": {"field": "t"}}},
      {"data": {"values": [{"t": "Fibronectin"}]},
       "mark": {"type": "text", "fontSize": 29, "fontWeight": "bold", "dx": 30},
       "encoding": {"x": {"datum": "Cirrhosis", "axis": null}, "y": {"datum": 1522, "axis": null}, "text": {"field": "t"}}}
    ]
  },
  {
    "resolve": {"axis": {"x": "independent", "y": "independent"}},
    "layer": [
      {"data": {"name": "bbox"}, "transform": [{"filter": "datum.panel == 'AFP'"}],
       "mark": {"type": "rule", "color": "#000", "strokeWidth": 4},
       "encoding": {
         "x": {"field": "group", "type": "nominal", "scale": {"type": "point", "domain": ["Cirrhosis","HCC"], "range": [1158, 1272], "padding": 0.6875, "align": 0.5}, "axis": {"orient": "bottom", "offset": -1378, "title": null, "labelAngle": -45, "labelFontSize": 24, "labelFontWeight": "bold", "labelPadding": 6, "labelOverlap": false, "domainWidth": 3, "tickWidth": 3, "tickSize": 7}},
         "y": {"field": "lo", "type": "quantitative", "scale": {"type": "log", "domain": [1, 100000], "range": [422, 214], "nice": false, "zero": false}, "axis": {"orient": "left", "offset": -1158, "values": [1,10,100,1000,10000,100000], "format": "d", "title": "Log (ng/ml)", "titleFontSize": 23, "titleFontWeight": "bold", "titlePadding": 11, "labelFontSize": 16, "labelFontWeight": "bold", "labelPadding": 2, "domainWidth": 3, "tickWidth": 3, "tickSize": 4}},
         "y2": {"field": "hi"}}},
      {"data": {"name": "bbox"}, "transform": [{"filter": "datum.panel == 'AFP'"}],
       "mark": {"type": "bar", "width": 31, "fill": "#ffffff", "stroke": "#000", "strokeWidth": 4},
       "encoding": {"x": {"field": "group", "type": "nominal", "axis": null}, "y": {"field": "q1", "type": "quantitative", "axis": null}, "y2": {"field": "q3"}}},
      {"data": {"name": "bbox"}, "transform": [{"filter": "datum.panel == 'AFP'"}],
       "mark": {"type": "tick", "orient": "horizontal", "size": 31, "thickness": 4, "color": "#000"},
       "encoding": {"x": {"field": "group", "type": "nominal", "axis": null}, "y": {"field": "med", "type": "quantitative", "axis": null}}},
      {"data": {"name": "bbox"}, "transform": [{"filter": "datum.panel == 'AFP'"}],
       "mark": {"type": "tick", "orient": "horizontal", "size": 22, "thickness": 4, "color": "#000"},
       "encoding": {"x": {"field": "group", "type": "nominal", "axis": null}, "y": {"field": "lo", "type": "quantitative", "axis": null}}},
      {"data": {"name": "bbox"}, "transform": [{"filter": "datum.panel == 'AFP'"}],
       "mark": {"type": "tick", "orient": "horizontal", "size": 22, "thickness": 4, "color": "#000"},
       "encoding": {"x": {"field": "group", "type": "nominal", "axis": null}, "y": {"field": "hi", "type": "quantitative", "axis": null}}},
      {"data": {"name": "bpts"}, "transform": [{"filter": "datum.panel == 'AFP'"}],
       "mark": {"type": "circle", "size": 45, "opacity": 1},
       "encoding": {"x": {"field": "group", "type": "nominal", "axis": null}, "xOffset": {"field": "jitter", "type": "quantitative", "scale": {"domain": [-1, 1], "range": [-16, 16]}}, "y": {"field": "value", "type": "quantitative", "axis": null}, "color": {"field": "group", "type": "nominal", "scale": {"domain": ["Cirrhosis","HCC"], "range": ["#8b1a1a","#16908e"]}, "legend": null}}},
      {"data": {"name": "bbr"}, "transform": [{"filter": "datum.panel == 'AFP'"}],
       "mark": {"type": "line", "color": "#000", "strokeWidth": 4, "strokeJoin": "miter"},
       "encoding": {"x": {"field": "group", "type": "nominal", "axis": null}, "y": {"field": "y", "type": "quantitative", "axis": null}, "detail": {"field": "br"}, "order": {"field": "ord", "type": "quantitative"}}},
      {"data": {"values": [{"t": "ns"}]},
       "mark": {"type": "text", "fontSize": 22, "fontWeight": "bold", "fontStyle": "italic", "baseline": "alphabetic", "dx": 24},
       "encoding": {"x": {"datum": "Cirrhosis", "axis": null}, "y": {"datum": 621000, "axis": null}, "text": {"field": "t"}}},
      {"data": {"values": [{"t": "AFP"}]},
       "mark": {"type": "text", "fontSize": 29, "fontWeight": "bold", "dx": 20},
       "encoding": {"x": {"datum": "Cirrhosis", "axis": null}, "y": {"datum": 81000000, "axis": null}, "text": {"field": "t"}}}
    ]
  },
  {
    "resolve": {"axis": {"x": "independent", "y": "independent"}},
    "layer": [
      {"data": {"name": "bbox"}, "transform": [{"filter": "datum.panel == 'VEGFR2'"}],
       "mark": {"type": "rule", "color": "#000", "strokeWidth": 4},
       "encoding": {
         "x": {"field": "group", "type": "nominal", "scale": {"type": "point", "domain": ["Cirrhosis","HCC"], "range": [1378, 1493], "padding": 0.65, "align": 0.49}, "axis": {"orient": "bottom", "offset": -1378.3, "title": null, "labelAngle": -45, "labelFontSize": 24, "labelFontWeight": "bold", "labelPadding": 6, "labelOverlap": false, "domainWidth": 3, "tickWidth": 3, "tickSize": 7}},
         "y": {"field": "lo", "type": "quantitative", "scale": {"domain": [0, 150], "range": [421.7, 205.7], "nice": false, "zero": false}, "axis": {"orient": "left", "offset": -1378, "values": [0,50,100,150], "title": "μg/ml", "titleFontSize": 23, "titleFontWeight": "bold", "titlePadding": 8, "labelFontSize": 17, "labelFontWeight": "bold", "labelPadding": 1, "domainWidth": 3, "tickWidth": 3, "tickSize": 10}},
         "y2": {"field": "hi"}}},
      {"data": {"name": "bbox"}, "transform": [{"filter": "datum.panel == 'VEGFR2'"}],
       "mark": {"type": "bar", "width": 32, "fill": "#ffffff", "stroke": "#000", "strokeWidth": 4},
       "encoding": {"x": {"field": "group", "type": "nominal", "axis": null}, "y": {"field": "q1", "type": "quantitative", "axis": null}, "y2": {"field": "q3"}}},
      {"data": {"name": "bbox"}, "transform": [{"filter": "datum.panel == 'VEGFR2'"}],
       "mark": {"type": "tick", "orient": "horizontal", "size": 32, "thickness": 4, "color": "#000"},
       "encoding": {"x": {"field": "group", "type": "nominal", "axis": null}, "y": {"field": "med", "type": "quantitative", "axis": null}}},
      {"data": {"name": "bbox"}, "transform": [{"filter": "datum.panel == 'VEGFR2'"}],
       "mark": {"type": "tick", "orient": "horizontal", "size": 23, "thickness": 4, "color": "#000"},
       "encoding": {"x": {"field": "group", "type": "nominal", "axis": null}, "y": {"field": "lo", "type": "quantitative", "axis": null}}},
      {"data": {"name": "bbox"}, "transform": [{"filter": "datum.panel == 'VEGFR2'"}],
       "mark": {"type": "tick", "orient": "horizontal", "size": 23, "thickness": 4, "color": "#000"},
       "encoding": {"x": {"field": "group", "type": "nominal", "axis": null}, "y": {"field": "hi", "type": "quantitative", "axis": null}}},
      {"data": {"name": "bpts"}, "transform": [{"filter": "datum.panel == 'VEGFR2'"}],
       "mark": {"type": "circle", "size": 45, "opacity": 1},
       "encoding": {"x": {"field": "group", "type": "nominal", "axis": null}, "xOffset": {"field": "jitter", "type": "quantitative", "scale": {"domain": [-1, 1], "range": [-16, 16]}}, "y": {"field": "value", "type": "quantitative", "axis": null}, "color": {"field": "group", "type": "nominal", "scale": {"domain": ["Cirrhosis","HCC"], "range": ["#8b1a1a","#16908e"]}, "legend": null}}},
      {"data": {"name": "bbr"}, "transform": [{"filter": "datum.panel == 'VEGFR2'"}],
       "mark": {"type": "line", "color": "#000", "strokeWidth": 4, "strokeJoin": "miter"},
       "encoding": {"x": {"field": "group", "type": "nominal", "axis": null}, "y": {"field": "y", "type": "quantitative", "axis": null}, "detail": {"field": "br"}, "order": {"field": "ord", "type": "quantitative"}}},
      {"data": {"values": [{"t": "ns"}]},
       "mark": {"type": "text", "fontSize": 22, "fontWeight": "bold", "fontStyle": "italic", "baseline": "alphabetic", "dx": 25},
       "encoding": {"x": {"datum": "Cirrhosis", "axis": null}, "y": {"datum": 167, "axis": null}, "text": {"field": "t"}}},
      {"data": {"values": [{"t": "VEGFR2"}]},
       "mark": {"type": "text", "fontSize": 29, "fontWeight": "bold", "dx": 8},
       "encoding": {"x": {"datum": "Cirrhosis", "axis": null}, "y": {"datum": 228, "axis": null}, "text": {"field": "t"}}}
    ]
  },
  {
    "resolve": {"axis": {"x": "independent", "y": "independent"}},
    "layer": [
      {"data": {"name": "bbox"}, "transform": [{"filter": "datum.panel == 'PAI-1'"}],
       "mark": {"type": "rule", "color": "#000", "strokeWidth": 4},
       "encoding": {
         "x": {"field": "group", "type": "nominal", "scale": {"type": "point", "domain": ["Cirrhosis","HCC"], "range": [1610, 1733], "padding": 0.66, "align": 0.5}, "axis": {"orient": "bottom", "offset": -1377.3, "title": null, "labelAngle": -45, "labelFontSize": 24, "labelFontWeight": "bold", "labelPadding": 6, "labelOverlap": false, "domainWidth": 3, "tickWidth": 3, "tickSize": 7}},
         "y": {"field": "lo", "type": "quantitative", "scale": {"domain": [0, 150], "range": [422.7, 189.3], "nice": false, "zero": false}, "axis": {"orient": "left", "offset": -1610, "values": [0,50,100,150], "title": "μg/ml", "titleFontSize": 23, "titleFontWeight": "bold", "titlePadding": 9, "labelFontSize": 17, "labelFontWeight": "bold", "labelPadding": 1, "domainWidth": 3, "tickWidth": 3, "tickSize": 10}},
         "y2": {"field": "hi"}}},
      {"data": {"name": "bbox"}, "transform": [{"filter": "datum.panel == 'PAI-1'"}],
       "mark": {"type": "bar", "width": 33, "fill": "#ffffff", "stroke": "#000", "strokeWidth": 4},
       "encoding": {"x": {"field": "group", "type": "nominal", "axis": null}, "y": {"field": "q1", "type": "quantitative", "axis": null}, "y2": {"field": "q3"}}},
      {"data": {"name": "bbox"}, "transform": [{"filter": "datum.panel == 'PAI-1'"}],
       "mark": {"type": "tick", "orient": "horizontal", "size": 33, "thickness": 4, "color": "#000"},
       "encoding": {"x": {"field": "group", "type": "nominal", "axis": null}, "y": {"field": "med", "type": "quantitative", "axis": null}}},
      {"data": {"name": "bbox"}, "transform": [{"filter": "datum.panel == 'PAI-1'"}],
       "mark": {"type": "tick", "orient": "horizontal", "size": 23, "thickness": 4, "color": "#000"},
       "encoding": {"x": {"field": "group", "type": "nominal", "axis": null}, "y": {"field": "lo", "type": "quantitative", "axis": null}}},
      {"data": {"name": "bbox"}, "transform": [{"filter": "datum.panel == 'PAI-1'"}],
       "mark": {"type": "tick", "orient": "horizontal", "size": 23, "thickness": 4, "color": "#000"},
       "encoding": {"x": {"field": "group", "type": "nominal", "axis": null}, "y": {"field": "hi", "type": "quantitative", "axis": null}}},
      {"data": {"name": "bpts"}, "transform": [{"filter": "datum.panel == 'PAI-1'"}],
       "mark": {"type": "circle", "size": 45, "opacity": 1},
       "encoding": {"x": {"field": "group", "type": "nominal", "axis": null}, "xOffset": {"field": "jitter", "type": "quantitative", "scale": {"domain": [-1, 1], "range": [-16, 16]}}, "y": {"field": "value", "type": "quantitative", "axis": null}, "color": {"field": "group", "type": "nominal", "scale": {"domain": ["Cirrhosis","HCC"], "range": ["#8b1a1a","#16908e"]}, "legend": null}}},
      {"data": {"name": "bbr"}, "transform": [{"filter": "datum.panel == 'PAI-1'"}],
       "mark": {"type": "line", "color": "#000", "strokeWidth": 4, "strokeJoin": "miter"},
       "encoding": {"x": {"field": "group", "type": "nominal", "axis": null}, "y": {"field": "y", "type": "quantitative", "axis": null}, "detail": {"field": "br"}, "order": {"field": "ord", "type": "quantitative"}}},
      {"data": {"values": [{"t": "ns"}]},
       "mark": {"type": "text", "fontSize": 22, "fontWeight": "bold", "fontStyle": "italic", "baseline": "alphabetic", "dx": 26.5},
       "encoding": {"x": {"datum": "Cirrhosis", "axis": null}, "y": {"datum": 155.3, "axis": null}, "text": {"field": "t"}}},
      {"data": {"values": [{"t": "PAI-1"}]},
       "mark": {"type": "text", "fontSize": 29, "fontWeight": "bold", "dx": 28},
       "encoding": {"x": {"datum": "Cirrhosis", "axis": null}, "y": {"datum": 212, "axis": null}, "text": {"field": "t"}}}
    ]
  },
  {
    "resolve": {"axis": {"x": "independent", "y": "independent"}},
    "layer": [
      {"data": {"name": "roc"}, "transform": [{"filter": "datum.panel == 'FN1+AFP'"}],
       "mark": {"type": "line", "strokeWidth": 3, "strokeJoin": "miter"},
       "encoding": {
         "x": {"field": "fpr", "type": "quantitative", "scale": {"domain": [0.085, 1.03], "range": [908, 1143], "nice": false, "zero": false},
           "axis": {"orient": "bottom", "offset": -857, "values": [0.2,0.4,0.6,0.8,1.0], "format": ".1f", "grid": false, "domainColor": "#a8a8a8", "domainWidth": 2.5, "ticks": false, "labelFontSize": 13, "labelColor": "#222222", "labelPadding": 6, "title": "1-Specificity", "titleFontSize": 24, "titleFontWeight": "bold", "titlePadding": 8}},
         "y": {"field": "tpr", "type": "quantitative", "scale": {"domain": [0, 1.05], "range": [943, 693], "nice": false, "zero": false},
           "axis": {"orient": "left", "offset": -908, "values": [0.1,0.2,0.3,0.4,0.5,0.6,0.7,0.8,0.9,1.0], "labelExpr": "round(datum.value*10) % 2 == 0 ? format(datum.value, '.1f') : ''", "grid": true, "gridDash": [2, 2], "gridColor": "#a9bcd1", "gridWidth": 1.2, "domainColor": "#a8a8a8", "domainWidth": 2.5, "ticks": false, "labelFontSize": 13, "labelColor": "#222222", "labelPadding": 18, "title": "Sensitivity", "titleFontSize": 24, "titleFontWeight": "bold", "titlePadding": 8}},
         "color": {"field": "curve", "type": "nominal", "scale": {"domain": ["FN1+AFP (0.93)", "FN1 (0.89)", "AFP (0.77)"], "range": ["#1f8a3c", "#dc2a44", "#5b9bd8"]},
           "legend": {"orient": "none", "legendX": 936, "legendY": 823, "title": null, "symbolType": "stroke", "symbolStrokeWidth": 6, "symbolSize": 729, "labelFontSize": 23, "labelFontWeight": "bold", "labelColor": "#111111", "labelFont": "Liberation Sans", "labelLimit": 400, "labelOffset": 4, "rowPadding": 0, "padding": 0}},
         "order": {"field": "ord", "type": "quantitative"}}},
      {"data": {"values": [{"t": "0.0"}]},
       "mark": {"type": "text", "fontSize": 13, "color": "#222222", "baseline": "top", "dy": 6},
       "encoding": {"x": {"datum": 0, "type": "quantitative", "axis": null}, "y": {"datum": 0, "type": "quantitative", "axis": null}, "text": {"field": "t"}}},
      {"data": {"values": [{"t": "FN1+AFP"}]},
       "mark": {"type": "text", "fontSize": 29, "fontWeight": "bold"},
       "encoding": {"x": {"datum": 0.563, "type": "quantitative", "axis": {"orient": "top", "offset": 0, "values": [0.1,0.2,0.3,0.4,0.5,0.6,0.7,0.8,0.9,1.0], "grid": true, "gridDash": [2, 2], "gridColor": "#a9bcd1", "gridWidth": 1.2, "labels": false, "ticks": false, "domain": false, "title": null}}, "y": {"datum": 1.307, "type": "quantitative", "axis": null}, "text": {"field": "t"}}},
      {"data": {"values": [{"t": "C"}]},
       "mark": {"type": "text", "fontSize": 32, "fontWeight": "bold"},
       "encoding": {"x": {"datum": -0.1, "type": "quantitative", "axis": null}, "y": {"datum": 1.395, "type": "quantitative", "axis": null}, "text": {"field": "t"}}},
      {"data": {"values": [{"t": "B"}]},
       "mark": {"type": "text", "fontSize": 32, "fontWeight": "bold"},
       "encoding": {"x": {"datum": -0.112, "type": "quantitative", "axis": null}, "y": {"datum": 3.88, "type": "quantitative", "axis": null}, "text": {"field": "t"}}}
    ]
  },
  {
    "resolve": {"axis": {"x": "independent", "y": "independent"}},
    "layer": [
      {"data": {"name": "roc"}, "transform": [{"filter": "datum.panel == 'VEGFR2'"}],
       "mark": {"type": "line", "color": "#000", "strokeWidth": 2.5, "strokeJoin": "miter"},
       "encoding": {
         "x": {"field": "fpr", "type": "quantitative", "scale": {"domain": [0, 1], "range": [1177, 1412], "nice": false, "zero": false},
           "axis": {"orient": "bottom", "offset": -858, "values": [0,0.2,0.4,0.6,0.8,1], "format": ".1f", "grid": false, "domainColor": "#cbd4dc", "domainWidth": 1.3, "ticks": false, "labelFontSize": 13, "labelColor": "#222222", "labelPadding": 6, "title": "1-Specificity", "titleX": 1304, "titleFontSize": 24, "titleFontWeight": "bold", "titlePadding": 8}},
         "y": {"field": "tpr", "type": "quantitative", "scale": {"domain": [0, 1], "range": [942, 713], "nice": false, "zero": false},
           "axis": {"orient": "left", "offset": -1177, "values": [0.2,0.4,0.6,0.8,1], "format": ".1f", "grid": true, "gridColor": "#cbd4dc", "gridWidth": 1.3, "domainColor": "#cbd4dc", "domainWidth": 1.3, "ticks": false, "labelFontSize": 13, "labelColor": "#222222", "labelPadding": 4, "title": null}},
         "order": {"field": "ord", "type": "quantitative"}}},
      {"data": {"values": [{"t": "AUROC=0.57"}]},
       "mark": {"type": "text", "fontSize": 23, "fontWeight": "bold"},
       "encoding": {"x": {"datum": 0.736, "type": "quantitative", "axis": null}, "y": {"datum": 0.148, "type": "quantitative", "axis": null}, "text": {"field": "t"}}},
      {"data": {"values": [{"t": "VEGFR2"}]},
       "mark": {"type": "text", "fontSize": 29, "fontWeight": "bold"},
       "encoding": {"x": {"datum": 0.753, "type": "quantitative", "axis": {"orient": "top", "offset": 0, "values": [0,0.2,0.4,0.6,0.8,1], "grid": true, "gridColor": "#cbd4dc", "gridWidth": 1.3, "labels": false, "ticks": false, "domain": false, "title": null}}, "y": {"datum": 1.354, "type": "quantitative", "axis": null}, "text": {"field": "t"}}}
    ]
  },
  {
    "resolve": {"axis": {"x": "independent", "y": "independent"}},
    "layer": [
      {"data": {"name": "roc"}, "transform": [{"filter": "datum.panel == 'PAI-1'"}],
       "mark": {"type": "line", "color": "#000", "strokeWidth": 2.5, "strokeJoin": "miter"},
       "encoding": {
         "x": {"field": "fpr", "type": "quantitative", "scale": {"domain": [0, 1], "range": [1478, 1710], "nice": false, "zero": false},
           "axis": {"orient": "bottom", "offset": -858, "values": [0,0.2,0.4,0.6,0.8,1], "format": ".1f", "grid": false, "domainColor": "#cbd4dc", "domainWidth": 1.3, "ticks": false, "labelFontSize": 13, "labelColor": "#222222", "labelPadding": 6, "title": "1-Specificity", "titleX": 1613, "titleFontSize": 24, "titleFontWeight": "bold", "titlePadding": 8}},
         "y": {"field": "tpr", "type": "quantitative", "scale": {"domain": [0, 1], "range": [942, 711], "nice": false, "zero": false},
           "axis": {"orient": "left", "offset": -1478, "values": [0.2,0.4,0.6,0.8,1], "format": ".1f", "grid": true, "gridColor": "#cbd4dc", "gridWidth": 1.3, "domainColor": "#cbd4dc", "domainWidth": 1.3, "ticks": false, "labelFontSize": 13, "labelColor": "#222222", "labelPadding": 6, "title": null}},
         "order": {"field": "ord", "type": "quantitative"}}},
      {"data": {"values": [{"t": "AUROC=0.50"}]},
       "mark": {"type": "text", "fontSize": 23, "fontWeight": "bold"},
       "encoding": {"x": {"datum": 0.664, "type": "quantitative", "axis": null}, "y": {"datum": 0.147, "type": "quantitative", "axis": null}, "text": {"field": "t"}}},
      {"data": {"values": [{"t": "PAI-1"}]},
       "mark": {"type": "text", "fontSize": 29, "fontWeight": "bold"},
       "encoding": {"x": {"datum": 0.56, "type": "quantitative", "axis": {"orient": "top", "offset": 0, "values": [0,0.2,0.4,0.6,0.8,1], "grid": true, "gridColor": "#cbd4dc", "gridWidth": 1.3, "labels": false, "ticks": false, "domain": false, "title": null}}, "y": {"datum": 1.342, "type": "quantitative", "axis": null}, "text": {"field": "t"}}}
    ]
  },
  {
    "resolve": {"axis": {"x": "independent", "y": "independent"}},
    "layer": [
      {"data": {"values": [{"t": ""}]},
       "mark": {"type": "rule", "color": "#000", "strokeWidth": 4},
       "encoding": {"x": {"datum": 0, "type": "quantitative", "scale": {"domain": [0, 1], "range": [123, 1636], "nice": false, "zero": false}, "axis": null}, "x2": {"datum": 1}, "y": {"datum": 0, "type": "quantitative", "scale": {"domain": [0, 1], "range": [1163, 1120], "nice": false, "zero": false}, "axis": null}}},
      {"data": {"values": [{"t": "Plasma Fibronectin"}]},
       "mark": {"type": "text", "fontSize": 35, "fontWeight": "bold"},
       "encoding": {"x": {"datum": 0.487, "type": "quantitative", "axis": null}, "y": {"datum": 0.535, "type": "quantitative", "axis": null}, "text": {"field": "t"}}},
      {"data": {"values": [{"t": "D"}]},
       "mark": {"type": "text", "fontSize": 32, "fontWeight": "bold"},
       "encoding": {"x": {"datum": -0.065, "type": "quantitative", "axis": null}, "y": {"datum": 0.84, "type": "quantitative", "axis": null}, "text": {"field": "t"}}}
    ]
  },
  {
    "resolve": {"axis": {"x": "independent", "y": "independent"}},
    "layer": [
      {"data": {"name": "dbars"}, "transform": [{"filter": "datum.panel == 'Focality'"}],
       "mark": {"type": "rule", "strokeWidth": 3.5},
       "encoding": {
         "x": {"field": "group", "type": "nominal", "scale": {"type": "band", "domain": ["Single","Multiple"], "range": [134, 310], "paddingInner": 0.44, "paddingOuter": 0.39}, "axis": {"orient": "bottom", "offset": -124, "title": null, "labelAngle": -45, "labelFontSize": 30, "labelFontWeight": "bold", "labelPadding": 6, "labelOverlap": false, "domainWidth": 5, "tickWidth": 4, "tickSize": 12}},
         "y": {"field": "mean", "type": "quantitative", "scale": {"domain": [0, 500], "range": [1676, 1350], "nice": false, "zero": false}, "axis": {"orient": "left", "offset": -134, "values": [0,100,200,300,400,500], "title": "μg/ml", "titleFontSize": 21, "titleFontWeight": "bold", "titlePadding": 20, "labelFontSize": 22, "labelFontWeight": "bold", "labelPadding": 7, "domainWidth": 5, "tickWidth": 4, "tickSize": 12}},
         "y2": {"field": "upper"},
         "color": {"field": "group", "type": "nominal", "scale": {"domain": ["Single","Multiple"], "range": ["#7b1518","#158080"]}, "legend": null}}},
      {"data": {"name": "dbars"}, "transform": [{"filter": "datum.panel == 'Focality'"}],
       "mark": {"type": "tick", "orient": "horizontal", "size": 23, "thickness": 3.5},
       "encoding": {"x": {"field": "group", "type": "nominal", "axis": null}, "y": {"field": "upper", "type": "quantitative", "axis": null}, "color": {"field": "group", "type": "nominal", "legend": null}}},
      {"data": {"name": "dbars"}, "transform": [{"filter": "datum.panel == 'Focality'"}],
       "mark": {"type": "bar", "width": 42, "stroke": "#000", "strokeWidth": 5},
       "encoding": {"x": {"field": "group", "type": "nominal", "axis": null}, "y": {"field": "mean", "type": "quantitative", "axis": null}, "color": {"field": "group", "type": "nominal", "legend": null}}},
      {"data": {"name": "dbr"}, "transform": [{"filter": "datum.panel == 'Focality'"}],
       "mark": {"type": "line", "color": "#000", "strokeWidth": 5, "strokeJoin": "miter"},
       "encoding": {"x": {"field": "group", "type": "nominal", "axis": null}, "xOffset": {"field": "shift", "type": "quantitative", "scale": {"domain": [-0.5, 0.5], "range": [0, 42]}}, "y": {"field": "y", "type": "quantitative", "axis": null}, "detail": {"field": "br"}, "order": {"field": "ord", "type": "quantitative"}}},
      {"data": {"values": [{"t": "*"}]},
       "mark": {"type": "text", "fontSize": 62, "fontWeight": "bold", "baseline": "alphabetic", "dx": 31},
       "encoding": {"x": {"datum": "Single", "axis": null}, "y": {"datum": 502, "axis": null}, "text": {"field": "t"}}},
      {"data": {"values": [{"t": "Focality"}]},
       "mark": {"type": "text", "fontSize": 28, "fontWeight": "bold", "dx": 4},
       "encoding": {"x": {"datum": "Single", "axis": null}, "y": {"datum": 709, "axis": null}, "text": {"field": "t"}}}
    ]
  },
  {
    "resolve": {"axis": {"x": "independent", "y": "independent"}},
    "layer": [
      {"data": {"name": "dbars"}, "transform": [{"filter": "datum.panel == 'Tumor'"}],
       "mark": {"type": "rule", "strokeWidth": 3.5},
       "encoding": {
         "x": {"field": "group", "type": "nominal", "scale": {"type": "band", "domain": ["T1","T2","T3"], "range": [530, 772], "paddingInner": 0.4375, "paddingOuter": 0.42}, "axis": {"orient": "bottom", "offset": -126.3, "title": null, "labelAngle": -45, "labelFontSize": 30, "labelFontWeight": "bold", "labelPadding": 6, "labelOverlap": false, "domainWidth": 5, "tickWidth": 4, "tickSize": 12}},
         "y": {"field": "mean", "type": "quantitative", "scale": {"domain": [0, 600], "range": [1673.7, 1350], "nice": false, "zero": false}, "axis": {"orient": "left", "offset": -530, "values": [0,200,400,600], "title": "μg/ml", "titleFontSize": 21, "titleFontWeight": "bold", "titlePadding": 21, "labelFontSize": 22, "labelFontWeight": "bold", "labelPadding": 3, "domainWidth": 5, "tickWidth": 4, "tickSize": 12}},
         "y2": {"field": "upper"},
         "color": {"field": "group", "type": "nominal", "scale": {"domain": ["T1","T2","T3"], "range": ["#7b1518","#158080","#1f4586"]}, "legend": null}}},
      {"data": {"name": "dbars"}, "transform": [{"filter": "datum.panel == 'Tumor'"}],
       "mark": {"type": "tick", "orient": "horizontal", "size": 23, "thickness": 3.5},
       "encoding": {"x": {"field": "group", "type": "nominal", "axis": null}, "y": {"field": "upper", "type": "quantitative", "axis": null}, "color": {"field": "group", "type": "nominal", "legend": null}}},
      {"data": {"name": "dbars"}, "transform": [{"filter": "datum.panel == 'Tumor'"}],
       "mark": {"type": "bar", "width": 40, "stroke": "#000", "strokeWidth": 5},
       "encoding": {"x": {"field": "group", "type": "nominal", "axis": null}, "y": {"field": "mean", "type": "quantitative", "axis": null}, "color": {"field": "group", "type": "nominal", "legend": null}}},
      {"data": {"name": "dbr"}, "transform": [{"filter": "datum.panel == 'Tumor'"}],
       "mark": {"type": "line", "color": "#000", "strokeWidth": 5, "strokeJoin": "miter"},
       "encoding": {"x": {"field": "group", "type": "nominal", "axis": null}, "xOffset": {"field": "shift", "type": "quantitative", "scale": {"domain": [-0.5, 0.5], "range": [0, 40]}}, "y": {"field": "y", "type": "quantitative", "axis": null}, "detail": {"field": "br"}, "order": {"field": "ord", "type": "quantitative"}}},
      {"data": {"values": [{"t": "**"}]},
       "mark": {"type": "text", "fontSize": 62, "fontWeight": "bold", "baseline": "alphabetic", "dx": -2},
       "encoding": {"x": {"datum": "T2", "axis": null}, "y": {"datum": 619, "axis": null}, "text": {"field": "t"}}},
      {"data": {"values": [{"t": "*"}]},
       "mark": {"type": "text", "fontSize": 62, "fontWeight": "bold", "baseline": "alphabetic", "dx": 35},
       "encoding": {"x": {"datum": "T1", "axis": null}, "y": {"datum": 437, "axis": null}, "text": {"field": "t"}}},
      {"data": {"values": [{"t": "Tumor Stage"}]},
       "mark": {"type": "text", "fontSize": 28, "fontWeight": "bold", "dx": -13},
       "encoding": {"x": {"datum": "T2", "axis": null}, "y": {"datum": 852, "axis": null}, "text": {"field": "t"}}}
    ]
  },
  {
    "resolve": {"axis": {"x": "independent", "y": "independent"}},
    "layer": [
      {"data": {"name": "dbars"}, "transform": [{"filter": "datum.panel == 'Etiology'"}],
       "mark": {"type": "rule", "strokeWidth": 3},
       "encoding": {
         "x": {"field": "group", "type": "nominal", "scale": {"type": "band", "domain": ["Hep C","NAFLD","ALD","Hep B"], "range": [992, 1254.6], "paddingInner": 0.333, "paddingOuter": 0.411}, "axis": {"orient": "bottom", "offset": -129.5, "title": null, "labelAngle": -45, "labelFontSize": 30, "labelFontWeight": "bold", "labelPadding": 6, "labelOverlap": false, "domainWidth": 5, "tickWidth": 4, "tickSize": 12}},
         "y": {"field": "mean", "type": "quantitative", "scale": {"domain": [0, 500], "range": [1670.5, 1344.6], "nice": false, "zero": false}, "axis": {"orient": "left", "offset": -992, "values": [0,100,200,300,400,500], "title": "μg/ml", "titleFontSize": 21, "titleFontWeight": "bold", "titlePadding": 23, "labelFontSize": 22, "labelFontWeight": "bold", "labelPadding": 4, "domainWidth": 5, "tickWidth": 4, "tickSize": 8}},
         "y2": {"field": "upper"},
         "color": {"field": "group", "type": "nominal", "scale": {"domain": ["Hep C","NAFLD","ALD","Hep B"], "range": ["#0b0f12","#ec1766","#168482","#44297b"]}, "legend": null}}},
      {"data": {"name": "dbars"}, "transform": [{"filter": "datum.panel == 'Etiology'"}],
       "mark": {"type": "tick", "orient": "horizontal", "size": 20, "thickness": 3},
       "encoding": {"x": {"field": "group", "type": "nominal", "axis": null}, "y": {"field": "upper", "type": "quantitative", "axis": null}, "color": {"field": "group", "type": "nominal", "legend": null}}},
      {"data": {"name": "dbars"}, "transform": [{"filter": "datum.panel == 'Etiology'"}],
       "mark": {"type": "bar", "width": 39},
       "encoding": {"x": {"field": "group", "type": "nominal", "axis": null}, "y": {"field": "mean", "type": "quantitative", "axis": null}, "color": {"field": "group", "type": "nominal", "legend": null}}},
      {"data": {"values": [{"t": "Etiology of Cirrhosis"}]},
       "mark": {"type": "text", "fontSize": 28, "fontWeight": "bold", "dx": -2},
       "encoding": {"x": {"datum": "NAFLD", "axis": null}, "y": {"datum": 700, "axis": null}, "text": {"field": "t"}}}
    ]
  },
  {
    "resolve": {"axis": {"x": "independent", "y": "independent"}},
    "layer": [
      {"data": {"name": "dbars"}, "transform": [{"filter": "datum.panel == 'Macro'"}],
       "mark": {"type": "rule", "strokeWidth": 3.5},
       "encoding": {
         "x": {"field": "group", "type": "nominal", "scale": {"type": "band", "domain": ["No VI","VI"], "range": [1477.4, 1644.7], "paddingInner": 0.448, "paddingOuter": 0.409}, "axis": {"orient": "bottom", "offset": -145, "title": null, "labelAngle": -45, "labelFontSize": 30, "labelFontWeight": "bold", "labelPadding": 6, "labelOverlap": false, "domainWidth": 5, "tickWidth": 4, "tickSize": 12}},
         "y": {"field": "mean", "type": "quantitative", "scale": {"domain": [0, 500], "range": [1655, 1344.6], "nice": false, "zero": false}, "axis": {"orient": "left", "offset": -1477.4, "values": [0,100,200,300,400,500], "title": "μg/ml", "titleFontSize": 21, "titleFontWeight": "bold", "titlePadding": 22, "labelFontSize": 22, "labelFontWeight": "bold", "labelPadding": 2, "domainWidth": 5, "tickWidth": 4, "tickSize": 13}},
         "y2": {"field": "upper"},
         "color": {"field": "group", "type": "nominal", "scale": {"domain": ["No VI","VI"], "range": ["#158080","#7b1518"]}, "legend": null}}},
      {"data": {"name": "dbars"}, "transform": [{"filter": "datum.panel == 'Macro'"}],
       "mark": {"type": "tick", "orient": "horizontal", "size": 23, "thickness": 3.5},
       "encoding": {"x": {"field": "group", "type": "nominal", "axis": null}, "y": {"field": "upper", "type": "quantitative", "axis": null}, "color": {"field": "group", "type": "nominal", "legend": null}}},
      {"data": {"name": "dbars"}, "transform": [{"filter": "datum.panel == 'Macro'"}],
       "mark": {"type": "bar", "width": 39, "stroke": "#000", "strokeWidth": 5},
       "encoding": {"x": {"field": "group", "type": "nominal", "axis": null}, "y": {"field": "mean", "type": "quantitative", "axis": null}, "color": {"field": "group", "type": "nominal", "legend": null}}},
      {"data": {"name": "dbr"}, "transform": [{"filter": "datum.panel == 'Macro'"}],
       "mark": {"type": "line", "color": "#000", "strokeWidth": 5, "strokeJoin": "miter"},
       "encoding": {"x": {"field": "group", "type": "nominal", "axis": null}, "xOffset": {"field": "shift", "type": "quantitative", "scale": {"domain": [-0.5, 0.5], "range": [0, 39]}}, "y": {"field": "y", "type": "quantitative", "axis": null}, "detail": {"field": "br"}, "order": {"field": "ord", "type": "quantitative"}}},
      {"data": {"values": [{"t": "*"}]},
       "mark": {"type": "text", "fontSize": 62, "fontWeight": "bold", "baseline": "alphabetic", "dx": 34},
       "encoding": {"x": {"datum": "No VI", "axis": null}, "y": {"datum": 529, "axis": null}, "text": {"field": "t"}}},
      {"data": {"values": [{"t": "Macrovascular Invasion"}]},
       "mark": {"type": "text", "fontSize": 28, "fontWeight": "bold", "dx": 16},
       "encoding": {"x": {"datum": "No VI", "axis": null}, "y": {"datum": 710, "axis": null}, "text": {"field": "t"}}}
    ]
  }
]
}
